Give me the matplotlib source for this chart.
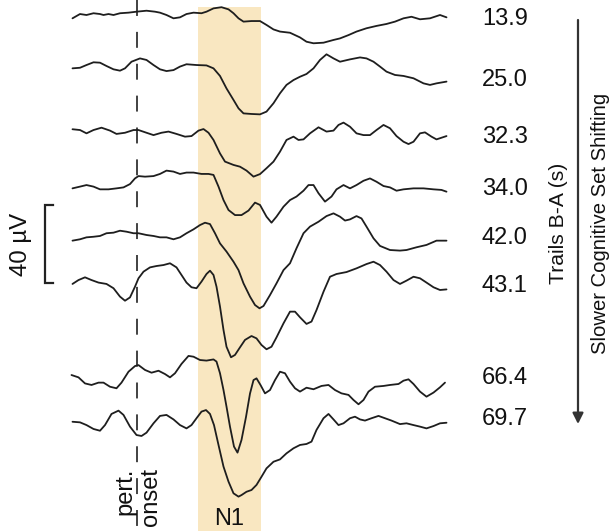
import numpy as np
import matplotlib
matplotlib.use("Agg")
import matplotlib.pyplot as plt

plt.rcParams['font.family'] = ['Liberation Sans', 'DejaVu Sans']

# ---------------- data (time in ms from perturbation onset, amplitude in µV) -------------
trails_labels = ["13.9", "25.0", "32.3", "34.0", "42.0", "43.1", "66.4", "69.7"]

t1 = [-129, -114, -101, -87, -74, -67, -57, -47, -34, -17, -1, 19, 36, 46, 59, 73, 86, 99, 113, 129,
      139, 153, 169, 183, 193, 203, 213, 229, 246, 259, 273, 286, 306, 326, 339, 353, 373, 393, 406,
      423, 439, 459, 479, 499, 516, 533, 549, 566, 586, 606, 619]
v1 = [-1.7, 0.5, 0, 0.9, 0.5, 0, 0.5, 0, 0.9, 1.2, 1.7, 2.2, 1.7, 1.2, 0, -1.7, -1.2, 0.5, 1.2, 0.9,
      1.7, 3.4, 4.0, 2.9, 0.9, -1.7, -3.4, -3.1, -3.1, -5.1, -7.4, -8.5, -9.1, -11.5, -13.7, -14.5, -14.2,
      -12.8, -12.0, -10.3, -8.5, -6.8, -5.6, -4.6, -3.4, -1.7, -0.9, -2.2, -1.7, 0, -1.2]

t2 = [-129, -114, -101, -87, -74, -61, -47, -34, -24, -11, 6, 19, 33, 46, 59, 73, 86, 99, 119, 139,
      153, 166, 179, 193, 203, 213, 229, 246, 259, 273, 286, 299, 313, 326, 339, 353, 366, 379, 393,
      406, 426, 446, 459, 473, 486, 499, 516, 533, 553, 573, 586, 599, 619]
v2 = [-1.2, -0.9, 0.5, 1.9, 1.7, 0, -1.7, -2.4, -1.2, 2.2, 3.9, 3.1, 0.5, -1.7, -2.6, -2.1, -0.3, 0.9,
      0.5, 0.3, -1.2, -5.1, -11.5, -17.4, -21.7, -24.3, -24.6, -24.8, -23.4, -19.1, -14.0, -9.7, -7.2,
      -5.5, -4.1, -1.2, 3.1, 6.0, 3.9, 2.2, 3.4, 4.4, 3.9, 2.2, -0.3, -2.9, -4.6, -5.1, -6.3, -8.9, -9.7,
      -8.9, -8.0]

t3 = [-129, -114, -101, -87, -71, -54, -41, -24, -7, 3, 19, 33, 49, 63, 79, 96, 109, 123, 133, 143,
      153, 166, 176, 193, 206, 219, 233, 246, 259, 273, 286, 299, 313, 323, 333, 346, 363, 379, 393,
      403, 413, 426, 439, 453, 466, 479, 493, 506, 519, 533, 543, 553, 566, 576, 589, 599, 619]
v3 = [0.9, 0.5, -1.2, 0.5, 1.7, 0.2, -1.5, -0.9, 0.5, 0.5, -0.9, -2.1, -0.9, -0.3, -1.5, -2.9, -2.6,
      0.2, 1.0, -0.9, -4.6, -11.5, -15.7, -17.4, -18.3, -20.3, -23.4, -22.1, -19.1, -15.7, -10.6, -4.6,
      -2.9, -4.6, -4.3, -1.2, 1.9, -0.3, 0.2, 3.1, 4.3, 2.2, -1.2, -2.1, -2.1, 0.5, 3.1, 1.4, -2.6, -5.5,
      -6.7, -5.5, -1.2, -0.7, -2.9, -4.3, -2.6]

t4 = [-129, -114, -101, -87, -74, -57, -41, -27, -14, -4, 3, 16, 33, 46, 59, 73, 86, 99, 113, 129,
      143, 153, 163, 173, 183, 196, 209, 223, 236, 246, 259, 269, 279, 293, 306, 319, 333, 343, 353,
      363, 376, 389, 399, 413, 426, 439, 453, 466, 479, 493, 506, 519, 533, 553, 573, 593, 609, 619]
v4 = [-0.7, 0.2, 1.0, 0.2, -1.2, -1.2, -0.7, -0.2, 1.5, 4.4, 5.6, 5.3, 5.6, 6.7, 8.4, 7.9, 6.7, 7.4,
      7.4, 6.7, 6.7, 6.2, 0.2, -6.7, -11.8, -14.4, -14.4, -12.1, -8.0, -9.2, -15.2, -18.3, -15.2, -10.1,
      -6.7, -4.9, -1.9, 1.0, 1.0, -3.2, -7.5, -4.9, -1.2, 1.0, -0.7, 1.0, 3.2, 4.4, 2.7, 0.5, -0.2, -1.9,
      -1.2, -0.7, -0.7, -1.2, -1.5, -2.4]

t5 = [-129, -114, -101, -87, -74, -61, -47, -34, -21, -7, 3, 19, 33, 46, 59, 73, 86, 99, 113, 126,
      136, 146, 156, 166, 179, 193, 203, 213, 226, 236, 245, 253, 266, 279, 293, 306, 319, 333, 346,
      363, 379, 393, 406, 416, 426, 439, 449, 459, 473, 486, 506, 526, 539, 559, 579, 599, 619]
v5 = [-2.9, -2.2, -1.2, -0.9, -0.5, 0.9, 1.2, 2.2, 1.7, 0.9, 0.9, 0, -0.5, -1.2, -1.2, -2.2, -1.2, 0.9,
      2.9, 5.1, 6.3, 5.6, 0.9, -4.3, -8.5, -13.7, -18.0, -24.8, -31.6, -35.9, -37.6, -36.4, -30.8, -24.8,
      -18.0, -14.5, -6.8, 0.9, 4.3, 6.8, 9.7, 11.1, 9.4, 7.4, 8.0, 9.7, 8.5, 4.3, -1.7, -5.6, -7.7, -8.0,
      -7.7, -6.3, -5.1, -2.9, -2.9]

t6 = [-129, -117, -104, -91, -77, -61, -47, -34, -24, -14, -4, 3, 13, 26, 39, 53, 66, 79, 89, 99, 109,
      119, 129, 139, 146, 153, 159, 166, 173, 179, 188, 196, 206, 216, 229, 239, 249, 259, 269, 279,
      293, 306, 316, 326, 339, 349, 359, 373, 386, 399, 419, 439, 459, 473, 486, 499, 513, 526, 539,
      553, 566, 579, 593, 606, 619]
v6 = [-1.0, 1.0, 2.4, 1.0, -0.3, -1.0, -3.2, -7.5, -9.6, -7.9, -2.4, 1.9, 5.3, 7.5, 8.2, 8.7, 9.6, 7.5,
      3.6, -0.3, -2.7, -3.2, 0.2, 4.1, 5.8, 3.6, -2.4, -12.6, -24.6, -33.2, -38.6, -37.4, -33.5, -29.7,
      -27.7, -28.9, -32.3, -34.5, -33.2, -28.4, -21.2, -15.2, -15.2, -18.1, -21.5, -20.3, -14.4, -5.0,
      2.7, 4.1, 5.1, 7.0, 9.2, 10.4, 8.7, 5.3, 1.0, -1.0, 0.7, 2.7, 1.9, -0.3, -2.7, -4.1, -3.8]

t7 = [-131, -117, -104, -91, -77, -67, -54, -41, -31, -17, -4, 3, 16, 29, 43, 56, 66, 76, 89, 103, 113,
      126, 139, 153, 159, 166, 173, 179, 186, 194, 201, 209, 218, 226, 233, 239, 247, 256, 266, 276,
      286, 296, 306, 316, 326, 339, 353, 369, 383, 396, 409, 423, 433, 443, 453, 463, 476, 493, 506,
      523, 533, 543, 553, 566, 579, 593, 606, 616]
v7 = [0.5, -0.7, -3.8, -4.6, -3.4, -3.4, -5.5, -6.3, -3.4, 2.2, 5.1, 5.6, 3.1, 1.7, 2.7, 1.0, -0.7, 1.4,
      6.2, 10.3, 9.9, 8.2, 7.9, 8.5, 7.4, 1.4, -7.2, -15.7, -26.0, -36.2, -39.3, -32.8, -21.0, -9.0,
      -2.1, -1.2, -4.6, -8.9, -7.2, -2.1, 2.2, 1.4, -2.9, -6.3, -8.0, -6.0, -6.8, -5.1, -4.6, -7.2, -8.9,
      -9.7, -12.3, -14.5, -12.3, -8.0, -5.5, -5.1, -4.6, -4.1, -2.4, -1.7, -4.1, -8.0, -10.6, -8.5, -5.8,
      -3.4]

t8 = [-129, -114, -101, -87, -74, -64, -51, -37, -27, -14, -1, 9, 19, 33, 46, 59, 73, 86, 99, 109, 119,
      129, 138, 146, 154, 163, 173, 183, 193, 203, 209, 219, 229, 239, 249, 259, 273, 286, 299, 313,
      326, 339, 349, 359, 373, 383, 393, 403, 413, 426, 436, 446, 456, 469, 483, 496, 509, 526, 539,
      553, 566, 579, 593, 606, 619]
v8 = [-0.9, -1.2, -2.6, -4.6, -5.5, -2.6, 3.1, 4.8, 2.6, -3.4, -7.7, -8.2, -6.5, -1.7, 2.1, 2.6, 0.3,
      -2.6, -4.3, -2.6, 0.9, 4.3, 5.1, 3.1, -2.6, -12.8, -23.9, -31.6, -37.6, -39.3, -38.5, -36.8, -35.9,
      -33.3, -29.1, -24.8, -21.4, -20.2, -17.1, -14.5, -12.8, -12.3, -11.1, -5.1, 0.9, 3.1, 0.3, -2.6,
      -1.7, 0.9, 1.7, 0.3, -0.3, 0.9, 2.1, 0.9, -0.3, -2.1, -1.7, -2.6, -3.4, -4.3, -3.1, -1.7, -1.4]

times = [t1, t2, t3, t4, t5, t6, t7, t8]
waves = [v1, v2, v3, v4, v5, v6, v7, v8]

n1_window = (122, 248)      # ms, shaded N1 window
scale_bar_uv = 40           # µV

# ---------------- layout (positions) ----------------
W, H, DPI = 610, 531, 100
UV_PER_PX = 1 / 1.95
def tx(px):            # figure pixel x -> ms
    return (px - 137) * 2.0
def uy(py):            # figure pixel y (from top) -> µV
    return -py * UV_PER_PX

baselines_px = [15, 66, 131, 187, 235, 282, 376, 420]
label_y_px = [19, 80, 137, 189, 238, 286, 378, 419]

fig = plt.figure(figsize=(W / DPI, H / DPI), dpi=DPI)
ax = fig.add_axes([0, 0, 1, 1])
ax.set_xlim(tx(0), tx(W))
ax.set_ylim(uy(H), uy(0))
ax.axis('off')
renderer = fig.canvas.get_renderer()

def fit_height(txt, target_px):
    """scale a rotated text so that its vertical extent equals target_px"""
    for _ in range(3):
        bb = txt.get_window_extent(renderer=renderer)
        txt.set_fontsize(txt.get_fontsize() * target_px / bb.height)

line_col = '#1e1e1e'

# N1 band
ax.fill_between(n1_window, uy(H), uy(7), color='#F9E7C1', lw=0, zorder=0)

# onset dashed line
ax.plot([0, 0], [uy(0), uy(H)], color='#3a3a3a', lw=1.35, dashes=(8.5, 8.5), zorder=1)

# traces
for t, v, b in zip(times, waves, baselines_px):
    ax.plot(t, np.array(v) + uy(b), color=line_col, lw=1.3, zorder=3,
            solid_joinstyle='round', solid_capstyle='round', antialiased=True)

# labels
for lab, ly in zip(trails_labels, label_y_px):
    ax.text(tx(482), uy(ly), lab, fontsize=17, ha='left', va='center', color='#111111')

# arrow
ax.annotate('', xy=(tx(578), uy(424)), xytext=(tx(578), uy(20)),
            arrowprops=dict(arrowstyle='-|>', lw=1.6, color='#333333', mutation_scale=16,
                            shrinkA=0, shrinkB=0))
tr = ax.text(tx(558), uy(223), 'Trails B-A (s)', rotation=90, fontsize=14.5,
             ha='center', va='center', color='#111111')
fit_height(tr, 121)
sl = ax.text(tx(600), uy(223), 'Slower Cognitive Set Shifting', rotation=90, fontsize=14.5,
             ha='center', va='center', color='#111111')
fit_height(sl, 262)

# scale bar
sb_top = uy(205)
ax.plot([tx(52.5), tx(45), tx(45), tx(52.5)],
        [sb_top, sb_top, sb_top - scale_bar_uv, sb_top - scale_bar_uv],
        color='#222222', lw=1.6, solid_joinstyle='miter')
sc = ax.text(tx(21), uy(244), '40 µV', rotation=90, fontsize=17, ha='center', va='center', color='#111111')
fit_height(sc, 63)

# onset text
pt = ax.text(tx(125), uy(468), 'pert.', rotation=90, fontsize=17, ha='center', va='top', color='#111111')
on = ax.text(tx(151), uy(468), 'onset', rotation=90, fontsize=17, ha='center', va='top', color='#111111')
fit_height(on, 58)
pt.set_fontsize(on.get_fontsize())

# N1 label
ax.text(np.mean(n1_window), uy(530), 'N1', fontsize=17, ha='center', va='bottom', color='#111111')

fig.savefig('out.png', dpi=DPI)
